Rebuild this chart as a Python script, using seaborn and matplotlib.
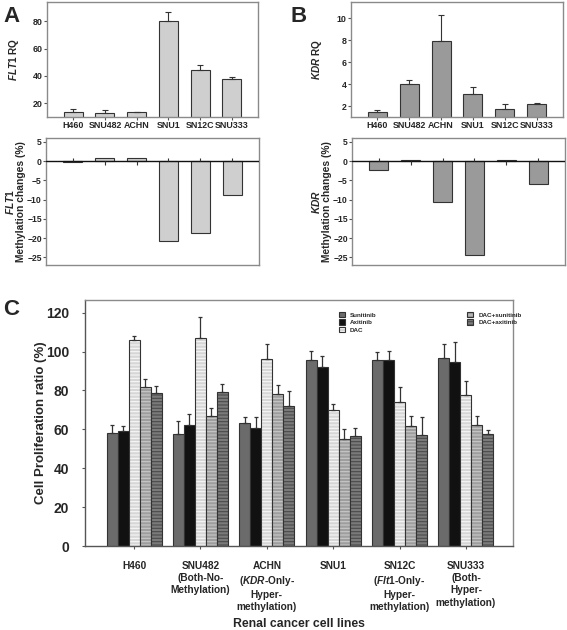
import numpy as np
import pandas as pd
import matplotlib.pyplot as plt
import seaborn as sns
from matplotlib.colors import to_rgba

# ---- data ----
cells = ["H460", "SNU482", "ACHN", "SNU1", "SN12C", "SNU333"]

flt1_rq = [13.7, 13.0, 13.5, 80.0, 44.2, 38.0]
flt1_rq_top = [15.5, 15.0, 14.0, 87.0, 48.0, 39.0]
flt1_meth = [-0.3, 0.8, 0.8, -20.8, -18.8, -8.7]

kdr_rq = [1.5, 4.0, 7.9, 3.1, 1.7, 2.15]
kdr_rq_top = [1.6, 4.4, 10.3, 3.7, 2.2, 2.3]
kdr_meth = [-2.2, 0.2, -10.5, -24.3, 0.2, -5.9]

treatments = ["Sunitinib", "Axitinib", "DAC", "DAC+sunitinib", "DAC+axitinib"]
sunitinib = [58.1, 57.6, 63.1, 95.6, 95.9, 96.6]
sunitinib_top = [62.4, 64.1, 66.2, 100.5, 99.7, 104.1]
axitinib = [59.3, 62.4, 60.7, 92.1, 95.9, 94.5]
axitinib_top = [61.5, 67.7, 66.5, 97.9, 100.2, 104.8]
dac = [105.8, 107.2, 96.1, 70.1, 74.0, 77.4]
dac_top = [108.0, 117.6, 103.8, 73.0, 81.7, 84.8]
dac_sun = [82.0, 66.7, 78.3, 55.2, 61.9, 62.0]
dac_sun_top = [85.8, 70.9, 82.7, 60.0, 66.8, 67.0]
dac_axi = [78.8, 79.3, 71.8, 56.4, 57.3, 57.5]
dac_axi_top = [82.2, 83.4, 79.5, 60.9, 66.2, 59.7]

group_labels = ["H460",
                "SNU482\n(Both-No-\nMethylation)",
                "ACHN\n($\\it{KDR}$-Only-\nHyper-\nmethylation)",
                "SNU1",
                "SN12C\n($\\it{Flt1}$-Only-\nHyper-\nmethylation)",
                "SNU333\n(Both-\nHyper-\nmethylation)"]

# ---- style ----
sns.set_style("ticks")
plt.rcParams['font.family'] = ['Liberation Sans', 'DejaVu Sans']
plt.rcParams['font.weight'] = 'bold'
plt.rcParams['axes.labelweight'] = 'bold'
plt.rcParams['mathtext.fontset'] = 'custom'
plt.rcParams['mathtext.rm'] = 'Liberation Sans:bold'
plt.rcParams['mathtext.bf'] = 'Liberation Sans:bold'
plt.rcParams['mathtext.it'] = 'Liberation Sans:italic:bold'
plt.rcParams['hatch.linewidth'] = 0.8

fig = plt.figure(figsize=(5.67, 6.3), dpi=100)

W, H = 567, 630
def add_ax(x0, y0, x1, y1):
    return fig.add_axes([x0 / W, 1 - y1 / H, (x1 - x0) / W, (y1 - y0) / H])

frame_col = '#8a8a8a'
edge_col = '#333333'


def style_frame(ax):
    for s in ax.spines.values():
        s.set_visible(True)
        s.set_color(frame_col)
        s.set_linewidth(1.0)
    ax.tick_params(axis='both', length=2, width=0.8, color='#555555', pad=1)


def rq_panel(ax, vals, tops, color, ylim, yticks, gene):
    sns.barplot(x=cells, y=vals, color=color, edgecolor=edge_col, linewidth=0.8,
                width=0.6, ax=ax, errorbar=None, saturation=1)
    xs = np.arange(len(cells))
    ax.errorbar(xs, vals, yerr=[np.zeros(len(vals)), np.array(tops) - np.array(vals)],
                fmt='none', ecolor=edge_col, elinewidth=0.8, capsize=2, capthick=0.8)
    ax.set_xlim(-0.83, 5.83)
    ax.set_ylim(*ylim)
    ax.set_yticks(yticks)
    ax.set_xticks(xs)
    ax.set_xticklabels(cells, fontsize=6.4, fontweight='bold')
    ax.tick_params(axis='y', labelsize=6.4)
    ax.set_ylabel("$\\it{%s}$ RQ" % gene, fontsize=7.2)
    style_frame(ax)
    ax.yaxis.set_label_coords(-0.125, 0.5)


def meth_panel(ax, vals, color, gene):
    sns.barplot(x=cells, y=vals, color=color, edgecolor=edge_col, linewidth=0.8,
                width=0.6, ax=ax, errorbar=None, saturation=1)
    xs = np.arange(len(cells))
    ax.axhline(0, color='#111111', lw=1.0, zorder=3)
    signs = np.where(np.array(vals) < 0, 1, -1)
    ax.vlines(xs, 0, signs * 0.9, color='#333333', lw=0.8, zorder=3)
    ax.set_xlim(-0.83, 5.83)
    ax.set_ylim(-27, 6)
    ax.set_yticks([5, 0, -5, -10, -15, -20, -25])
    ax.set_xticks([])
    ax.set_xlabel("")
    ax.tick_params(axis='y', labelsize=6.2)
    ax.set_ylabel("$\\it{%s}$\nMethylation changes (%%)" % gene, fontsize=7.4,
                  linespacing=1.05)
    style_frame(ax)
    ax.yaxis.set_label_coords(-0.094, 0.5)


axA1 = add_ax(47, 2, 258, 117)
rq_panel(axA1, flt1_rq, flt1_rq_top, '#cfcfcf', (10, 94), [20, 40, 60, 80], 'FLT1')
axA2 = add_ax(46, 138, 259, 265)
meth_panel(axA2, flt1_meth, '#cfcfcf', 'FLT1')

axB1 = add_ax(351, 2, 563, 117)
rq_panel(axB1, kdr_rq, kdr_rq_top, '#9a9a9a', (1, 11.5), [2, 4, 6, 8, 10], 'KDR')
axB2 = add_ax(352, 138, 565, 265)
meth_panel(axB2, kdr_meth, '#9a9a9a', 'KDR')

# ---- panel C ----
values = [sunitinib, axitinib, dac, dac_sun, dac_axi]
tops = [sunitinib_top, axitinib_top, dac_top, dac_sun_top, dac_axi_top]
df = pd.DataFrame({
    'cell': np.tile(cells, len(treatments)),
    'treatment': np.repeat(treatments, len(cells)),
    'ratio': np.concatenate(values),
})
palette = ['#6b6b6b', '#111111', '#d6d6d6', '#9e9e9e', '#7a7a7a']
hatches = ['', '', '-----', '-----', '-----']
hatch_cols = [None, None, '#f7f7f7', '#c8c8c8', '#4a4a4a']

axC = add_ax(85, 300, 513, 546)
sns.barplot(data=df, x='cell', y='ratio', hue='treatment', order=cells,
            hue_order=treatments, palette=palette, edgecolor=edge_col,
            linewidth=0.8, width=0.83, errorbar=None, saturation=1, ax=axC)


def set_hatch(patch, h, hc):
    patch.set_hatch(h)
    if hasattr(patch, 'set_hatchcolor'):
        patch.set_hatchcolor(hc)
    else:
        patch._hatch_color = to_rgba(hc)


for cont, h, hc, v, t in zip(axC.containers, hatches, hatch_cols, values, tops):
    xc = []
    for bar in cont:
        xc.append(bar.get_x() + bar.get_width() / 2)
        if h:
            set_hatch(bar, h, hc)
    axC.errorbar(xc, v, yerr=[np.zeros(len(v)), np.array(t) - np.array(v)],
                 fmt='none', ecolor=edge_col, elinewidth=0.9, capsize=1.5, capthick=0.9)

axC.set_xlim(-0.74, 5.71)
axC.set_ylim(0, 126.5)
axC.set_yticks([0, 20, 40, 60, 80, 100, 120])
axC.set_xticks(range(len(cells)))
axC.set_xticklabels(group_labels, fontsize=7.3, fontweight='bold', linespacing=1.3,
                    va='top')
axC.set_ylabel("Cell Proliferation ratio (%)", fontsize=9.5)
axC.set_xlabel("Renal cancer cell lines", fontsize=8.8, labelpad=4)
style_frame(axC)
axC.tick_params(axis='y', labelsize=10, pad=9, length=2.5)
axC.tick_params(axis='x', pad=8, length=2.5)
axC.yaxis.set_label_coords(-0.088, 0.5)
axC.spines['left'].set_color('#555555')
axC.spines['bottom'].set_color('#555555')

sns.move_legend(axC, "upper left", bbox_to_anchor=(0.585, 0.965), ncol=2,
                frameon=False, fontsize=4.5, title=None, handlelength=1.0,
                handleheight=1.0, columnspacing=14.5, labelspacing=0.25,
                handletextpad=0.8, borderpad=0)
for patch, h, hc in zip(axC.get_legend().get_patches(), hatches, hatch_cols):
    if h:
        set_hatch(patch, h, hc)

# panel letters
fig.text(3 / W, 1 - 22 / H, "A", fontsize=16, fontweight='bold')
fig.text(290 / W, 1 - 22 / H, "B", fontsize=16, fontweight='bold')
fig.text(3 / W, 1 - 315 / H, "C", fontsize=16, fontweight='bold')

fig.savefig("out.png", dpi=100)
